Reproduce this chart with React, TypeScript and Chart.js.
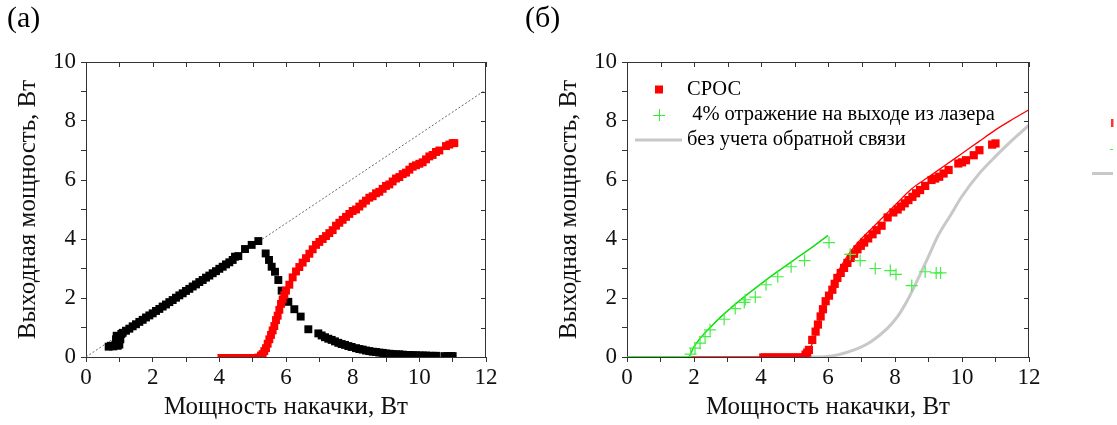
import React, { useEffect, useRef } from 'react';
import { Chart, registerables } from 'chart.js';

Chart.register(...registerables);

const FONT = '"Liberation Serif", "DejaVu Serif", serif';
const AXIS = '#333333';

const xTitle = 'Мощность накачки, Вт';
const yTitle = 'Выходная мощность, Вт';
const panelLabels = ['(a)', '(б)'];
const legendLabels = ['СРОС', ' 4% отражение на выходе из лазера', 'без учета обратной связи'];
const xMin = 0;
const xMax = 12;
const yMin = 0;
const yMax = 10;

// ---------- Panel (a) ----------
const blackAX = [0.68, 0.75, 0.82, 0.88, 0.9, 0.92, 0.95, 0.97, 1.0, 1.0, 1.03, 1.06,
  1.1, 1.2, 1.3, 1.4, 1.5, 1.6, 1.7, 1.8, 1.9, 2.0, 2.1, 2.2, 2.3, 2.4, 2.5, 2.6, 2.7, 2.8, 2.9,
  3.0, 3.1, 3.2, 3.3, 3.4, 3.5, 3.6, 3.7, 3.8, 3.9, 4.0, 4.1, 4.2, 4.3, 4.4, 4.47, 4.57, 4.77, 4.97, 5.17,
  5.39, 5.49, 5.57, 5.67, 5.77, 5.87, 6.07, 6.25, 6.44, 6.67, 6.97, 7.07, 7.17, 7.27, 7.37, 7.47,
  7.57, 7.67, 7.77, 7.87, 7.97, 8.1, 8.2, 8.3, 8.4, 8.5, 8.6, 8.7, 8.8, 8.9, 9.0, 9.1, 9.2, 9.3,
  9.4, 9.5, 9.6, 9.7, 9.8, 9.9, 10.0, 10.1, 10.2, 10.3, 10.4, 10.5, 10.75, 10.85, 10.95, 11.0];
const blackAY = [0.35, 0.38, 0.36, 0.42, 0.6, 0.72, 0.38, 0.55, 0.7, 0.42, 0.6, 0.78,
  0.82, 0.89, 0.96, 1.04, 1.11, 1.19, 1.26, 1.34, 1.41, 1.48, 1.56, 1.63, 1.71, 1.78, 1.86, 1.93, 2.01, 2.09, 2.16,
  2.24, 2.31, 2.39, 2.46, 2.54, 2.61, 2.69, 2.76, 2.84, 2.91, 2.99, 3.06, 3.14, 3.21, 3.29, 3.4, 3.42, 3.66, 3.8, 3.93,
  3.51, 3.29, 3.06, 2.89, 2.61, 2.25, 1.87, 1.62, 1.37, 0.94, 0.8, 0.73, 0.67, 0.62, 0.58, 0.53,
  0.48, 0.44, 0.41, 0.37, 0.34, 0.3, 0.27, 0.25, 0.22, 0.2, 0.18, 0.17, 0.15, 0.14, 0.12, 0.11, 0.1, 0.09,
  0.09, 0.08, 0.07, 0.07, 0.06, 0.06, 0.05, 0.05, 0.05, 0.04, 0.04, 0.04, 0.03, 0.03, 0.03, 0.03];

const redABaseX = [4.0, 4.05, 4.1, 4.15, 4.2, 4.25, 4.3, 4.35, 4.4, 4.45, 4.5, 4.55, 4.6, 4.65, 4.7, 4.75,
  4.8, 4.85, 4.9, 4.95, 5.0, 5.05, 5.1, 5.15, 5.2];
const redABaseY = [0.04, 0.04, 0.04, 0.04, 0.04, 0.04, 0.04, 0.04, 0.04, 0.04, 0.04, 0.04, 0.04, 0.04, 0.04, 0.04,
  0.04, 0.04, 0.04, 0.04, 0.04, 0.04, 0.05, 0.05, 0.06];

const redAX = [5.25, 5.3, 5.35, 5.4, 5.45, 5.5, 5.55, 5.6, 5.65, 5.7, 5.75, 5.8, 5.85, 5.9, 5.95, 6.0,
  6.1, 6.2, 6.3, 6.4, 6.5, 6.6, 6.7, 6.8, 6.9, 7.0, 7.1, 7.2, 7.3, 7.4, 7.5, 7.6, 7.7, 7.8, 7.9, 8.0,
  8.1, 8.2, 8.3, 8.4, 8.5, 8.6, 8.7, 8.8, 8.9, 9.0, 9.1, 9.2, 9.3, 9.4, 9.5, 9.6, 9.7, 9.8, 9.9, 10.0,
  10.1, 10.2, 10.3, 10.4, 10.5, 10.6, 10.8, 10.9, 11.0, 11.05];
const redAY = [0.05, 0.1, 0.2, 0.3, 0.45, 0.6, 0.75, 0.9, 1.05, 1.25, 1.4, 1.6, 1.8, 1.95, 2.1, 2.25,
  2.45, 2.7, 2.9, 3.05, 3.2, 3.35, 3.5, 3.65, 3.8, 3.9, 4.0, 4.1, 4.2, 4.3, 4.45, 4.55, 4.65, 4.75, 4.85, 4.95,
  5.0, 5.1, 5.2, 5.3, 5.4, 5.45, 5.55, 5.6, 5.7, 5.8, 5.85, 5.95, 6.05, 6.1, 6.2, 6.25, 6.35, 6.45, 6.5, 6.55,
  6.6, 6.7, 6.8, 6.85, 6.95, 7.0, 7.15, 7.2, 7.25, 7.25];

const diagX = [0, 12];
const diagY = [0, 9.06];

// ---------- Panel (б) ----------
const srosBaseX = [4.0, 4.05, 4.1, 4.15, 4.2, 4.25, 4.3, 4.35, 4.4, 4.45, 4.5, 4.55, 4.6, 4.65, 4.7, 4.75,
  4.8, 4.85, 4.9, 4.95, 5.0, 5.05, 5.1, 5.15, 5.2, 5.25];
const srosBaseY = [0.06, 0.06, 0.06, 0.06, 0.06, 0.06, 0.06, 0.06, 0.06, 0.06, 0.06, 0.06, 0.06, 0.06, 0.06, 0.06,
  0.06, 0.06, 0.06, 0.06, 0.06, 0.06, 0.06, 0.06, 0.06, 0.06];

const srosX = [5.33, 5.38, 5.43, 5.53, 5.63, 5.7, 5.78, 5.85, 5.93, 6.03, 6.13, 6.2, 6.28, 6.38, 6.48, 6.58,
  6.68, 6.78, 6.88, 6.98, 7.08, 7.2, 7.33, 7.45, 7.6, 7.78, 7.95, 8.08, 8.18, 8.29, 8.4, 8.52,
  8.63, 8.75, 8.9, 9.09, 9.2, 9.32, 9.45, 9.6, 9.89, 10.0, 10.12, 10.35, 10.52, 10.9, 11.0];
const srosY = [0.08, 0.15, 0.24, 0.58, 0.86, 1.1, 1.375, 1.62, 1.89, 2.08, 2.28, 2.48, 2.68, 2.85, 3.02, 3.19,
  3.36, 3.5, 3.65, 3.77, 3.88, 4.02, 4.16, 4.3, 4.45, 4.73, 4.9, 5.0, 5.1, 5.21, 5.32, 5.43,
  5.55, 5.66, 5.8, 6.0, 6.05, 6.11, 6.22, 6.34, 6.56, 6.6, 6.67, 6.84, 7.01, 7.2, 7.24];

const refl4X = [1.9, 2.03, 2.18, 2.33, 2.48, 2.9, 3.23, 3.5, 3.53, 3.83, 4.15, 4.5, 4.9, 5.3,
  6.03, 6.66, 6.96, 7.41, 7.86, 8.03, 8.5, 8.9, 9.23, 9.36];
const refl4Y = [0.1, 0.3, 0.47, 0.69, 0.92, 1.28, 1.64, 1.85, 1.94, 2.03, 2.45, 2.72, 3.06, 3.27,
  3.88, 3.48, 3.27, 3.0, 2.93, 2.8, 2.42, 2.89, 2.85, 2.85];

const greenFitX = [0, 1.83, 2.0, 2.2, 2.5, 2.8, 3.2, 3.6, 4.0, 4.5, 5.0, 5.5, 6.0];
const greenFitY = [0, 0, 0.35, 0.65, 1.02, 1.36, 1.76, 2.13, 2.48, 2.9, 3.3, 3.7, 4.12];

const redFitX = [1.9, 4.0, 5.33, 5.45, 5.58, 5.78, 6.0, 6.23, 6.58, 6.98, 7.38, 7.78, 8.08, 8.5,
  9.0, 9.5, 10.0, 10.5, 11.0, 11.5, 12.0];
const redFitY = [0, 0, 0, 0.25, 0.6, 1.375, 2.1, 2.74, 3.42, 3.99, 4.44, 4.9, 5.24, 5.7,
  6.1, 6.5, 6.9, 7.3, 7.7, 8.05, 8.38];

const grayX = [4.6, 5.6, 5.9, 6.28, 6.78, 7.28, 7.78, 8.08, 8.38, 8.68, 8.98, 9.28, 9.68, 10.0, 10.5, 11.0, 11.5, 12.0];
const grayY = [0, 0, 0.01, 0.07, 0.24, 0.52, 0.98, 1.375, 1.94, 2.63, 3.36, 4.1, 4.85, 5.45, 6.2, 6.8, 7.35, 7.86];

const pts = (xs: number[], ys: number[]) => xs.map((x, i) => ({ x, y: ys[i] }));

const framePlugin = {
  id: 'frame',
  afterDraw(chart: any, _args: any, opts: any) {
    const { ctx, chartArea: a, scales } = chart;
    const xs = scales.x;
    const ys = scales.y;
    ctx.save();
    ctx.strokeStyle = AXIS;
    ctx.lineWidth = 1;
    ctx.beginPath();
    ctx.moveTo(a.left, Math.round(a.top) + 0.5);
    ctx.lineTo(a.right, Math.round(a.top) + 0.5);
    ctx.moveTo(Math.round(a.right) - 0.5, a.top);
    ctx.lineTo(Math.round(a.right) - 0.5, a.bottom);
    for (let v = xMin; v <= xMax; v++) {
      const px = Math.round(xs.getPixelForValue(v)) + 0.5;
      ctx.moveTo(px, a.top);
      ctx.lineTo(px, a.top + 5);
    }
    for (let v = yMin; v <= yMax; v++) {
      const py = Math.round(ys.getPixelForValue(v)) + 0.5;
      ctx.moveTo(a.right, py);
      ctx.lineTo(a.right - 5, py);
    }
    ctx.stroke();

    ctx.fillStyle = '#000';
    ctx.font = `30px ${FONT}`;
    ctx.textBaseline = 'top';
    ctx.textAlign = 'left';
    ctx.fillText(opts.label, opts.labelX, opts.labelY);

    if (opts.legend) {
      const mx = 139;
      const rows = [89.5, 115, 140];
      const tx = 167;
      ctx.fillStyle = '#ff0000';
      ctx.fillRect(mx - 4, rows[0] - 4, 8, 8);
      ctx.strokeStyle = '#33ee33';
      ctx.lineWidth = 1;
      ctx.beginPath();
      ctx.moveTo(mx - 6, rows[1] + 0.5);
      ctx.lineTo(mx + 6, rows[1] + 0.5);
      ctx.moveTo(mx + 0.5, rows[1] - 6);
      ctx.lineTo(mx + 0.5, rows[1] + 6);
      ctx.stroke();
      ctx.strokeStyle = '#c8c8c8';
      ctx.lineWidth = 3;
      ctx.beginPath();
      ctx.moveTo(115, rows[2]);
      ctx.lineTo(162, rows[2]);
      ctx.stroke();
      ctx.fillStyle = '#000';
      ctx.font = `20.5px ${FONT}`;
      ctx.textBaseline = 'middle';
      legendLabels.forEach((t, i) => ctx.fillText(t, tx, rows[i]));

      // cropped legend of a neighbouring panel at the right edge
      ctx.fillStyle = '#ff3333';
      ctx.fillRect(591, 119, 2.5, 8);
      ctx.strokeStyle = '#44ee44';
      ctx.lineWidth = 1;
      ctx.beginPath();
      ctx.moveTo(590, 149.5);
      ctx.lineTo(593, 149.5);
      ctx.stroke();
      ctx.strokeStyle = '#c8c8c8';
      ctx.lineWidth = 3;
      ctx.beginPath();
      ctx.moveTo(572, 173.5);
      ctx.lineTo(593, 173.5);
      ctx.stroke();
    }
    ctx.restore();
  },
};

function makeScales(yWidth: number, yTitlePad: number) {
  const tickFont = { family: FONT, size: 23 };
  const titleFont = { family: FONT, size: 25 };
  return {
    x: {
      type: 'linear',
      min: xMin,
      max: xMax,
      afterFit: (s: any) => { s.height = 68; },
      border: { display: true, color: AXIS, width: 1 },
      grid: { display: true, drawOnChartArea: false, drawTicks: true, tickLength: 5, color: AXIS, tickColor: AXIS },
      ticks: {
        stepSize: 1,
        autoSkip: false,
        maxRotation: 0,
        padding: 2,
        color: '#111',
        font: tickFont,
        callback: (v: any) => (Number(v) % 2 === 0 ? String(v) : ''),
      },
      title: { display: true, text: xTitle, color: '#111', font: titleFont, padding: { top: 0, bottom: 3 } },
    },
    y: {
      type: 'linear',
      min: yMin,
      max: yMax,
      afterFit: (s: any) => { s.width = yWidth; },
      border: { display: true, color: AXIS, width: 1 },
      grid: { display: true, drawOnChartArea: false, drawTicks: true, tickLength: 5, color: AXIS, tickColor: AXIS },
      ticks: {
        stepSize: 1,
        autoSkip: false,
        padding: 5,
        color: '#111',
        font: tickFont,
        callback: (v: any) => (Number(v) % 2 === 0 ? String(v) : ''),
      },
      title: { display: true, text: yTitle, color: '#111', font: titleFont, padding: { top: yTitlePad, bottom: 0 } },
    },
  };
}

function useChart(ref: React.RefObject<HTMLCanvasElement | null>, makeConfig: () => any) {
  useEffect(() => {
    let chart: Chart | null = null;
    let cancelled = false;
    const build = () => {
      if (cancelled || !ref.current) return;
      chart = new Chart(ref.current, makeConfig());
    };
    const fontsApi = (document as any).fonts;
    if (fontsApi && fontsApi.load) {
      Promise.all([
        fontsApi.load(`21px "Liberation Serif"`, 'Мощность 0123'),
      ]).then(build, build);
    } else {
      build();
    }
    return () => {
      cancelled = true;
      if (chart) chart.destroy();
    };
  }, []);
}

function PanelA() {
  const ref = useRef<HTMLCanvasElement>(null);
  useChart(ref, () => ({
    type: 'scatter',
    data: {
      datasets: [
        { label: 'red', data: pts(redAX, redAY), pointStyle: 'rect', pointRadius: 5.6, backgroundColor: '#ff0000', borderColor: '#ff0000', borderWidth: 0 },
        { label: 'redBase', data: pts(redABaseX, redABaseY), pointStyle: 'rect', pointRadius: 2.6, backgroundColor: '#ff0000', borderColor: '#ff0000', borderWidth: 0 },
        { label: 'black', data: pts(blackAX, blackAY), pointStyle: 'rect', pointRadius: 5.6, backgroundColor: '#000000', borderColor: '#000000', borderWidth: 0 },
        { label: 'diag', data: pts(diagX, diagY), showLine: true, pointRadius: 0, borderColor: '#666666', borderWidth: 1, borderDash: [2, 2] },
      ],
    },
    options: {
      responsive: false,
      animation: false,
      events: [],
      layout: { padding: { left: 0, top: 62, right: 34, bottom: 0 } },
      plugins: {
        legend: { display: false },
        tooltip: { enabled: false },
        frame: { label: panelLabels[0], labelX: 7, labelY: 4, legend: false },
      },
      scales: makeScales(86, 13),
    },
    plugins: [framePlugin],
  }));
  return <canvas ref={ref} width={520} height={425} style={{ position: 'absolute', left: 0, top: 0 }} />;
}

function PanelB() {
  const ref = useRef<HTMLCanvasElement>(null);
  useChart(ref, () => ({
    type: 'scatter',
    data: {
      datasets: [
        { label: legendLabels[1], data: pts(refl4X, refl4Y), pointStyle: 'cross', pointRadius: 6, borderColor: '#44ee44', borderWidth: 1.2, backgroundColor: '#44ee44' },
        { label: legendLabels[0], data: pts(srosX, srosY), pointStyle: 'rect', pointRadius: 5.8, backgroundColor: '#ff0000', borderColor: '#ff0000', borderWidth: 0 },
        { label: 'base', data: pts(srosBaseX, srosBaseY), pointStyle: 'rect', pointRadius: 2.6, backgroundColor: '#ff0000', borderColor: '#ff0000', borderWidth: 0 },
        { label: 'greenFit', data: pts(greenFitX, greenFitY), showLine: true, pointRadius: 0, borderColor: '#11dd11', borderWidth: 1.5, cubicInterpolationMode: 'monotone' },
        { label: 'redFit', data: pts(redFitX, redFitY), showLine: true, pointRadius: 0, borderColor: '#ff0000', borderWidth: 1.3, cubicInterpolationMode: 'monotone' },
        { label: legendLabels[2], data: pts(grayX, grayY), showLine: true, pointRadius: 0, borderColor: '#c8c8c8', borderWidth: 3, cubicInterpolationMode: 'monotone' },
      ],
    },
    options: {
      responsive: false,
      animation: false,
      events: [],
      layout: { padding: { left: 0, top: 62, right: 88, bottom: 0 } },
      plugins: {
        legend: { display: false },
        tooltip: { enabled: false },
        frame: { label: panelLabels[1], labelX: 5, labelY: 4, legend: true },
      },
      scales: makeScales(107, 34),
    },
    plugins: [framePlugin],
  }));
  return <canvas ref={ref} width={597} height={425} style={{ position: 'absolute', left: 520, top: 0 }} />;
}

export default function App() {
  return (
    <div style={{ position: 'fixed', left: 0, top: 0, width: 1117, height: 425, background: '#fff', overflow: 'hidden' }}>
      <PanelA />
      <PanelB />
    </div>
  );
}
